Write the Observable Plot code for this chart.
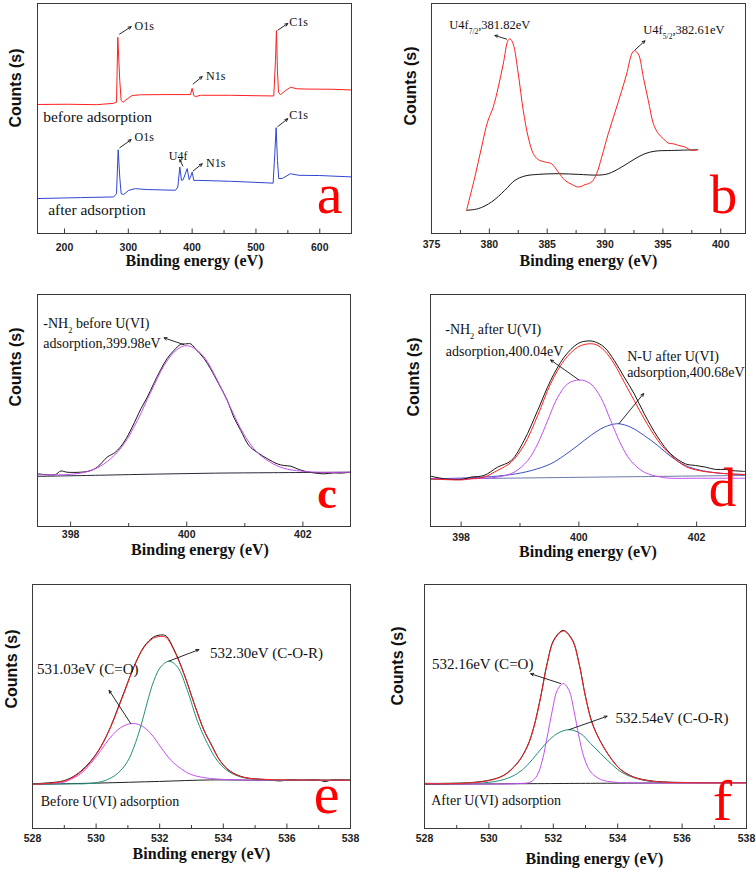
<!DOCTYPE html>
<html><head><meta charset="utf-8">
<script src="https://cdn.jsdelivr.net/npm/d3@7"></script>
<script src="https://cdn.jsdelivr.net/npm/@observablehq/plot@0.6"></script>
<style>
html,body{margin:0;padding:0;background:#fff;}
#root{position:relative;width:756px;height:872px;overflow:hidden;background:#fff;}
.panel{position:absolute;}
</style></head><body><div id="root"></div>
<script>
// ---------- Panel a: survey spectra ----------
const aBefore = [[157.7,56.1],[205,56.2],[250,56.0],[277,56.6],[281.5,57.1],[283.5,85.3],[286.6,66.5],[288.8,57.8],[292,57.1],[298.2,58.5],[306,60.0],[319,60.3],[356,60.4],[397.4,60.4],[400,63.1],[402.6,60.0],[405.2,59.5],[413,60.1],[460,60.1],[500,59.9],[527.9,59.8],[530.6,75.2],[532.1,88.2],[533.7,70.8],[535.3,61.4],[538.4,60.4],[546.2,62.1],[554.1,63.6],[564.6,62.9],[580,62.8],[620,62.7],[649.7,62.4]];
const aAfter = [[157.7,15.2],[225,15.6],[277,15.9],[281.5,17.3],[284.1,36.4],[286.6,24.5],[288.8,17.3],[292.9,17.0],[300.8,18.8],[311.2,19.5],[329.6,19.1],[373.9,18.8],[377.6,20.2],[380.7,28.9],[383.3,23.1],[386,23.4],[392.2,28.2],[395.4,23.4],[397.4,24.5],[400,26.7],[402.6,23.1],[407.9,23.1],[460,22.7],[526.9,21.9],[529.5,34.7],[531.6,46.0],[533.7,31.8],[535.7,23.9],[541.1,23.9],[554.1,26.0],[567.1,25.3],[600,25.2],[649.7,24.6]];
const aPeakLabels = [
  {x:309.7,y:90.3,text:"O1s"},{x:552,y:91.8,text:"C1s"},{x:421.9,y:68.2,text:"N1s"},
  {x:309.7,y:41.9,text:"O1s"},{x:363.4,y:33.7,text:"U4f"},{x:421.9,y:30.6,text:"N1s"},{x:552,y:51.3,text:"C1s"}];
const aSampleLabels = [{x:166.6,y:50.6,text:"before adsorption"},{x:174.4,y:10.4,text:"after adsorption"}];
const aArrows = [
  {x1:286.2,y1:86.7,x2:304.4,y2:89.9},{x1:534.2,y1:88.4,x2:549.9,y2:91.3},{x1:401.6,y1:65.0,x2:415.7,y2:68.2},
  {x1:286.7,y1:37.3,x2:304.4,y2:40.8},{x1:385.4,y1:29.3,x2:380.7,y2:32.1},{x1:401.6,y1:27.2,x2:415.7,y2:30.3},{x1:534.2,y1:46.5,x2:549.9,y2:49.9}];
const aTicks = [200,300,400,500,600], aMinor = [250,350,450,550];

// ---------- Panel b: U4f ----------
const bU4f = [[378.03,10.1],[378.75,24.6],[379.33,37.6],[379.84,48.4],[380.33,54.9],[380.77,63.6],[381.2,73.7],[381.63,84.1],[381.8,84.6],[382.06,82.4],[382.5,69.4],[382.93,53.5],[383.36,41.9],[383.8,34.7],[384.23,32.1],[384.8,31.1],[385.38,30.3],[385.96,26.7],[386.53,23.1],[387.11,21.4],[387.69,20.2],[388.26,21.2],[388.84,22.4],[389.27,26.0],[389.71,33.2],[390.28,43.4],[390.86,52.7],[391.44,62.1],[391.87,69.4],[392.3,78.0],[392.53,79.5],[392.88,78.0],[393.31,67.9],[393.74,57.8],[394.18,47.7],[394.61,43.4],[395.04,41.2],[395.47,39.3],[395.9,39.0],[396.34,38.3],[396.91,37.6],[397.49,36.1],[398.01,36.4]];
const bBackground = [[378.03,10.1],[379.04,10.8],[380.19,13.7],[381.34,18.8],[382.21,23.1],[383.07,25.0],[384.23,25.7],[385.96,26.0],[387.69,25.7],[389.42,25.4],[390.28,26.0],[391.44,28.9],[392.59,32.5],[393.45,34.7],[394.32,35.8],[395.76,36.1],[398.01,36.4]];
const bLabels = [{x:376.53,y:90.6,text:"U4f_{7/2},381.82eV"},{x:393.31,y:88.4,text:"U4f_{5/2},382.61eV"}];
const bArrows = [{x1:381.49,y1:84.5,x2:380.48,y2:86.1},{x1:392.59,y1:79.8,x2:393.45,y2:83.8}];
const bTicks = [375,380,385,390,395,400], bMinor = [377.5,382.5,387.5,392.5,397.5];

// ---------- Panel c: N1s before ----------
const cData = [[397.43,22.7],[397.6,22.3],[397.74,22.4],[397.83,23.9],[397.94,23.4],[398.17,23.4],[398.32,23.9],[398.46,25.6],[398.63,29.9],[398.77,32.0],[398.92,36.4],[399.06,42.8],[399.21,50.7],[399.32,55.7],[399.43,61.5],[399.55,67.5],[399.66,72.3],[399.78,75.9],[399.89,78.4],[399.98,78.7],[400.07,78.7],[400.15,76.6],[400.3,72.3],[400.41,68.0],[400.55,61.5],[400.7,54.3],[400.81,47.1],[400.93,41.4],[401.07,34.9],[401.21,32.0],[401.39,29.2],[401.56,27.0],[401.67,26.3],[401.79,26.0],[401.9,24.9],[402.02,23.9],[402.19,23.1],[402.36,22.7],[402.53,23.1],[402.65,23.0],[402.82,23.4]];
const cFit = [[397.43,22.3],[397.94,22.4],[398.23,23.3],[398.46,25.3],[398.69,29.2],[398.92,35.6],[399.15,45.7],[399.38,57.9],[399.61,69.4],[399.78,75.1],[399.92,77.6],[400.01,77.9],[400.12,77.0],[400.3,73.0],[400.53,62.9],[400.75,51.4],[400.98,39.9],[401.21,32.0],[401.44,27.7],[401.67,25.1],[401.96,23.9],[402.25,23.4],[402.82,23.4]];
const cBase = [[397.43,21.6],[398.5,22.1],[399.5,22.6],[400.5,23.0],[401.5,23.2],[402.82,23.4]];
const cLabels = [{x:397.53,y:87.4,text:"-NH_{2} before U(VI)"},{x:397.53,y:78.7,text:"adsorption,399.98eV"}];
const cArrows = [{x1:399.95,y1:78.4,x2:399.61,y2:81.3}];
const cdTicks = [398,400,402], cdMinor = [399,401];

// ---------- Panel d: N1s after ----------
const dData = [[397.48,21.7],[397.74,20.5],[398.02,20.3],[398.17,21.3],[398.39,22.0],[398.62,25.6],[398.85,28.4],[399.07,37.1],[399.3,50.0],[399.52,62.9],[399.75,73.0],[399.98,78.8],[400.12,79.9],[400.26,79.7],[400.43,77.3],[400.6,71.6],[400.77,64.4],[400.94,57.2],[401.11,48.6],[401.34,38.5],[401.56,31.3],[401.81,27.0],[401.98,26.3],[402.15,25.6],[402.32,24.6],[402.49,24.6],[402.6,24.1],[402.72,23.9],[402.83,23.7]];
const dEnvelope = [[397.48,20.5],[398.02,20.1],[398.17,20.6],[398.39,21.3],[398.62,24.2],[398.85,27.7],[399.07,35.1],[399.3,47.8],[399.52,61.5],[399.75,71.6],[399.98,77.3],[400.15,78.7],[400.29,78.4],[400.43,75.9],[400.6,70.1],[400.77,62.2],[400.94,54.3],[401.11,46.4],[401.34,37.1],[401.56,30.8],[401.81,25.9],[402.04,24.1],[402.26,23.3],[402.55,22.7],[402.83,22.4]];
const dNH2 = [[397.48,20.5],[398.17,20.6],[398.62,21.3],[398.9,23.4],[399.13,28.4],[399.3,35.6],[399.47,45.7],[399.64,55.7],[399.81,61.5],[400.01,63.2],[400.2,61.5],[400.37,55.7],[400.54,45.7],[400.71,35.6],[400.88,28.4],[401.11,23.4],[401.39,21.3],[401.56,20.8],[402,20.8],[402.83,20.8]];
const dNU = [[397.48,20.5],[398.39,21.3],[398.85,22.4],[399.19,24.1],[399.52,27.0],[399.75,30.6],[399.98,34.9],[400.2,39.2],[400.43,42.8],[400.66,44.3],[400.88,42.8],[401.11,39.2],[401.34,34.9],[401.56,30.2],[401.81,26.3],[402.04,24.4],[402.38,23.0],[402.83,22.4]];
const dBase = [[397.48,20.4],[400,21.2],[402.83,22.0]];
const dLabels = [{x:397.73,y:84.8,text:"-NH_{2} after U(VI)"},{x:397.74,y:75.4,text:"adsorption,400.04eV"},{x:400.82,y:73.3,text:"N-U after U(VI)"},{x:400.82,y:66.5,text:"adsorption,400.68eV"}];
const dArrows = [{x1:400.0,y1:63.2,x2:399.52,y2:71.8},{x1:400.68,y1:44.3,x2:401.1,y2:57.3}];

// ---------- Panel e: O1s before ----------
const eData = [[528,18.3],[528.89,19.3],[529.2,20.7],[529.52,23.5],[529.83,27.6],[530.15,33.6],[530.46,41.8],[530.67,48.8],[530.93,57.6],[531.19,66.4],[531.51,74.6],[531.8,78.4],[532.03,79.3],[532.2,78.9],[532.45,73.4],[532.76,63.6],[533.08,51.4],[533.39,40.4],[533.6,35.0],[533.92,27.4],[534.23,23.4],[534.65,21.0],[535.38,20.0],[535.8,19.5],[536.1,20.0],[536.43,19.8],[537,19.9],[537.2,19.2],[537.4,19.9],[538,19.8]];
const eEnvelope = [[528,18.1],[528.89,19.1],[529.2,20.5],[529.52,23.2],[529.83,27.3],[530.15,33.4],[530.46,41.6],[530.67,48.4],[530.93,57.3],[531.19,66.2],[531.51,74.3],[531.8,78.0],[532.03,78.7],[532.2,78.3],[532.45,73.0],[532.76,63.4],[533.08,51.2],[533.39,40.2],[533.6,34.8],[533.92,27.3],[534.23,23.2],[534.65,20.9],[535.38,20.1],[536,19.9],[538,19.8]];
const eCO = [[528,18.1],[528.89,18.7],[529.2,20.1],[529.52,22.5],[529.83,26.6],[530.15,32.0],[530.46,37.5],[530.77,41.3],[531.09,43.0],[531.4,42.3],[531.72,38.9],[532.03,33.4],[532.35,28.0],[532.66,24.6],[532.97,22.2],[533.29,21.1],[533.6,20.5],[534.2,20.0],[535,19.8],[538,19.8]];
const eCOR = [[528,18.1],[529.2,18.3],[529.73,18.4],[530.25,19.5],[530.67,22.5],[530.98,27.3],[531.19,33.4],[531.4,41.6],[531.61,51.8],[531.82,60.7],[532.03,66.2],[532.29,68.6],[532.56,66.2],[532.87,56.6],[533.18,44.3],[533.5,34.8],[533.8,28.0],[534.1,24.0],[534.5,21.3],[535,20.2],[535.5,19.9],[538,19.8]];
const eBase = [[528,18.1],[530,18.6],[532,19.3],[533.6,19.9],[535,19.8],[538,19.8]];
const ePeakLabels = [{x:528.14,y:65.1,text:"531.03eV (C=O)"},{x:533.58,y:71.9,text:"532.30eV (C-O-R)"}];
const eSampleLabels = [{x:528.26,y:10.9,text:"Before U(VI) adsorption"}];
const eArrows = [{x1:531.09,y1:43.0,x2:530.41,y2:56.6},{x1:532.29,y1:68.6,x2:533.23,y2:73.3}];
const efTicks = [528,530,532,534,536,538], efMinor = [529,531,533,535,537];

// ---------- Panel f: O1s after ----------
const fData = [[528,18.5],[528.81,18.5],[529.43,18.8],[530.05,19.9],[530.47,21.9],[530.88,26.8],[531.19,33.6],[531.4,41.9],[531.61,54.2],[531.81,67.8],[532.02,77.4],[532.31,81.2],[532.59,77.4],[532.8,67.7],[533.0,54.1],[533.21,43.2],[533.47,35.6],[533.8,28.6],[534.1,24.1],[534.5,21.1],[535,19.6],[535.6,19.0],[538,18.8]];
const fEnvelope = [[528,18.4],[528.81,18.4],[529.43,18.7],[530.05,19.8],[530.47,21.8],[530.88,26.6],[531.19,33.4],[531.4,41.6],[531.61,53.9],[531.81,67.5],[532.02,77.1],[532.31,80.9],[532.59,77.1],[532.8,67.5],[533.0,53.9],[533.21,43.0],[533.47,35.5],[533.8,28.5],[534.1,24.0],[534.5,21.0],[535,19.5],[535.6,18.9],[538,18.7]];
const fCO = [[528,18.4],[530.88,18.4],[531.3,19.1],[531.5,21.8],[531.66,28.0],[531.81,37.5],[531.97,48.4],[532.12,56.6],[532.31,59.4],[532.49,56.6],[532.64,48.4],[532.8,37.5],[532.95,29.3],[533.16,23.2],[533.47,20.1],[533.9,19.0],[534.5,18.7],[538,18.7]];
const fCOR = [[528,18.4],[529.3,18.6],[529.84,18.7],[530.47,20.1],[530.88,22.5],[531.19,25.9],[531.5,30.7],[531.81,35.4],[532.12,38.9],[532.49,40.5],[532.85,38.9],[533.16,34.8],[533.47,30.7],[533.8,26.5],[534.1,23.2],[534.5,20.8],[535,19.3],[535.6,18.8],[538,18.7]];
const fBase = [[528,18.1],[533,18.5],[538,18.8]];
const fPeakLabels = [{x:528.23,y:67.5,text:"532.16eV (C=O)"},{x:533.93,y:45.4,text:"532.54eV (C-O-R)"}];
const fSampleLabels = [{x:528.21,y:11.6,text:"After U(VI) adsorption"}];
const fArrows = [{x1:532.23,y1:59.4,x2:531.3,y2:63.4},{x1:532.49,y1:40.5,x2:533.67,y2:46.0}];

const xTitle = "Binding energy (eV)";
const yTitle = "Counts (s)";
const panelLetters = ["a","b","c","d","e","f"];

// ---------- rendering ----------
const SERIF = "'Liberation Serif','Times New Roman',Times,serif";
const SANS = "'Liberation Sans',Arial,Helvetica,sans-serif";
const RED = "#ff1f1f", BLUE = "#3045d4", BLUE2 = "#3b4fc4", VIOLET = "#c44ff2", GREEN = "#22907a", BLACK = "#161616", AX = "#3a3a3a";

function applySubscripts(svg) {
  svg.querySelectorAll("text").forEach(t => {
    const s = t.textContent;
    if (!s.includes("_{")) return;
    t.textContent = "";
    for (const p of s.split(/(_\{[^}]*\})/)) {
      if (!p) continue;
      const ts = document.createElementNS("http://www.w3.org/2000/svg", "tspan");
      if (p.startsWith("_{")) {
        ts.textContent = p.slice(2, -1);
        ts.setAttribute("font-size", "0.6em");
        ts.setAttribute("baseline-shift", "sub");
      } else ts.textContent = p;
      t.appendChild(ts);
    }
  });
}

function panel(cfg) {
  const xy = {x: d => d[0], y: d => d[1]};
  const marks = [];
  for (const s of cfg.series) marks.push(Plot.line(s.data, {...xy, stroke: s.color, strokeWidth: s.width ?? 1, curve: cfg.curve}));
  for (const g of cfg.labels) marks.push(Plot.text(g.data, {x: "x", y: "y", text: "text", textAnchor: "start", fontFamily: SERIF, fontSize: g.size, fill: "#111"}));
  marks.push(Plot.arrow(cfg.arrows, {x1: "x1", y1: "y1", x2: "x2", y2: "y2", stroke: "#111", strokeWidth: 0.9, headLength: 5, headAngle: 50}));
  marks.push(Plot.frame({stroke: AX, strokeWidth: 1}));
  marks.push(Plot.axisX(cfg.major, {tickSize: -4.5, fill: "none", stroke: AX, label: null}));
  marks.push(Plot.axisX(cfg.minor, {tickSize: -3, fill: "none", stroke: AX, label: null}));
  marks.push(Plot.axisX(cfg.major, {tickSize: 0, tickPadding: cfg.tickPad, fontSize: 10.5, fontWeight: "bold", fontFamily: SANS, fill: "#222", label: null}));
  marks.push(Plot.text([xTitle], {text: d => d, frameAnchor: "bottom", dx: cfg.titleDx, dy: cfg.titleDy, fontFamily: SERIF, fontWeight: "bold", fontSize: 16, fill: "#111"}));
  marks.push(Plot.text([yTitle], {text: d => d, frameAnchor: "left", rotate: -90, dx: cfg.countsDx, dy: cfg.countsDy, fontFamily: SANS, fontWeight: "bold", fontSize: 16, fill: "#111"}));
  marks.push(Plot.text([cfg.letter], {text: d => d, frameAnchor: "bottom-right", dx: cfg.letterDx, dy: cfg.letterDy, textAnchor: "middle", lineAnchor: "bottom", fontFamily: SERIF, fontWeight: cfg.letterBold ? "bold" : "normal", fontSize: cfg.letterSize, fill: "#f00"}));
  const svg = Plot.plot({
    width: cfg.w, height: cfg.h,
    marginLeft: cfg.m[0], marginRight: cfg.m[1], marginTop: cfg.m[2], marginBottom: cfg.m[3],
    x: {domain: cfg.xDomain, label: null},
    y: {domain: [0, 100], axis: null},
    style: {background: "transparent", overflow: "visible"},
    marks
  });
  applySubscripts(svg);
  const div = document.createElement("div");
  div.className = "panel";
  div.style.left = cfg.left + "px";
  div.style.top = cfg.top + "px";
  div.appendChild(svg);
  document.getElementById("root").appendChild(div);
}

panel({left: 0, top: 0, w: 378, h: 290, m: [37, 27, 3, 57], xDomain: [157.7, 649.7], curve: "linear",
  series: [{data: aBefore, color: RED}, {data: aAfter, color: BLUE}],
  labels: [{data: aPeakLabels, size: 12}, {data: aSampleLabels, size: 15.5}], arrows: aArrows,
  major: aTicks, minor: aMinor, tickPad: 10, titleDx: 0, titleDy: 32, countsDx: -22, countsDy: 9,
  letter: panelLetters[0], letterDx: -22, letterDy: -21, letterSize: 58});

panel({left: 378, top: 0, w: 378, h: 290, m: [53, 11, 3, 57], xDomain: [375, 402.14], curve: "catmull-rom",
  series: [{data: bBackground, color: BLACK}, {data: bU4f, color: RED}],
  labels: [{data: bLabels, size: 12.5}], arrows: bArrows,
  major: bTicks, minor: bMinor, tickPad: 7.5, titleDx: 0, titleDy: 32, countsDx: -21, countsDy: 7,
  letter: panelLetters[1], letterDx: -22, letterDy: -21, letterSize: 55});

panel({left: 0, top: 290, w: 378, h: 290, m: [37, 28, 4, 54], xDomain: [397.43, 402.82], curve: "catmull-rom",
  series: [{data: cBase, color: "#2a2a3a"}, {data: cData, color: BLACK}, {data: cFit, color: VIOLET}],
  labels: [{data: cLabels, size: 14}], arrows: cArrows,
  major: cdTicks, minor: cdMinor, tickPad: 4, titleDx: 6, titleDy: 28, countsDx: -22, countsDy: -4,
  letter: panelLetters[2], letterDx: -23.5, letterDy: -19, letterSize: 44, letterBold: true});

panel({left: 378, top: 290, w: 378, h: 290, m: [52, 11, 4, 54], xDomain: [397.48, 402.83], curve: "catmull-rom",
  series: [{data: dBase, color: "#6a78a8"}, {data: dNU, color: BLUE2}, {data: dNH2, color: VIOLET}, {data: dData, color: BLACK}, {data: dEnvelope, color: RED}],
  labels: [{data: dLabels, size: 14}], arrows: dArrows,
  major: cdTicks, minor: cdMinor, tickPad: 7, titleDx: 0, titleDy: 30, countsDx: -16.5, countsDy: 6,
  letter: panelLetters[3], letterDx: -23, letterDy: -21, letterSize: 55});

panel({left: 0, top: 580, w: 378, h: 292, m: [32, 28, 4, 44], xDomain: [528, 538], curve: "catmull-rom",
  series: [{data: eBase, color: "#222"}, {data: eData, color: BLACK}, {data: eCO, color: VIOLET}, {data: eCOR, color: GREEN}, {data: eEnvelope, color: RED}],
  labels: [{data: ePeakLabels, size: 15}, {data: eSampleLabels, size: 14}], arrows: eArrows,
  major: efTicks, minor: efMinor, tickPad: 6, titleDx: 10, titleDy: 30, countsDx: -21, countsDy: 2,
  letter: panelLetters[4], letterDx: -24, letterDy: -16, letterSize: 58});

panel({left: 378, top: 580, w: 378, h: 292, m: [46, 10, 4, 44], xDomain: [528, 538], curve: "catmull-rom",
  series: [{data: fBase, color: "#222"}, {data: fData, color: BLACK}, {data: fCOR, color: GREEN}, {data: fCO, color: VIOLET}, {data: fEnvelope, color: RED}],
  labels: [{data: fPeakLabels, size: 15}, {data: fSampleLabels, size: 14}], arrows: fArrows,
  major: efTicks, minor: efMinor, tickPad: 6, titleDx: 9, titleDy: 35, countsDx: -27, countsDy: -1,
  letter: panelLetters[5], letterDx: -24, letterDy: -9, letterSize: 58});
</script></body></html>
